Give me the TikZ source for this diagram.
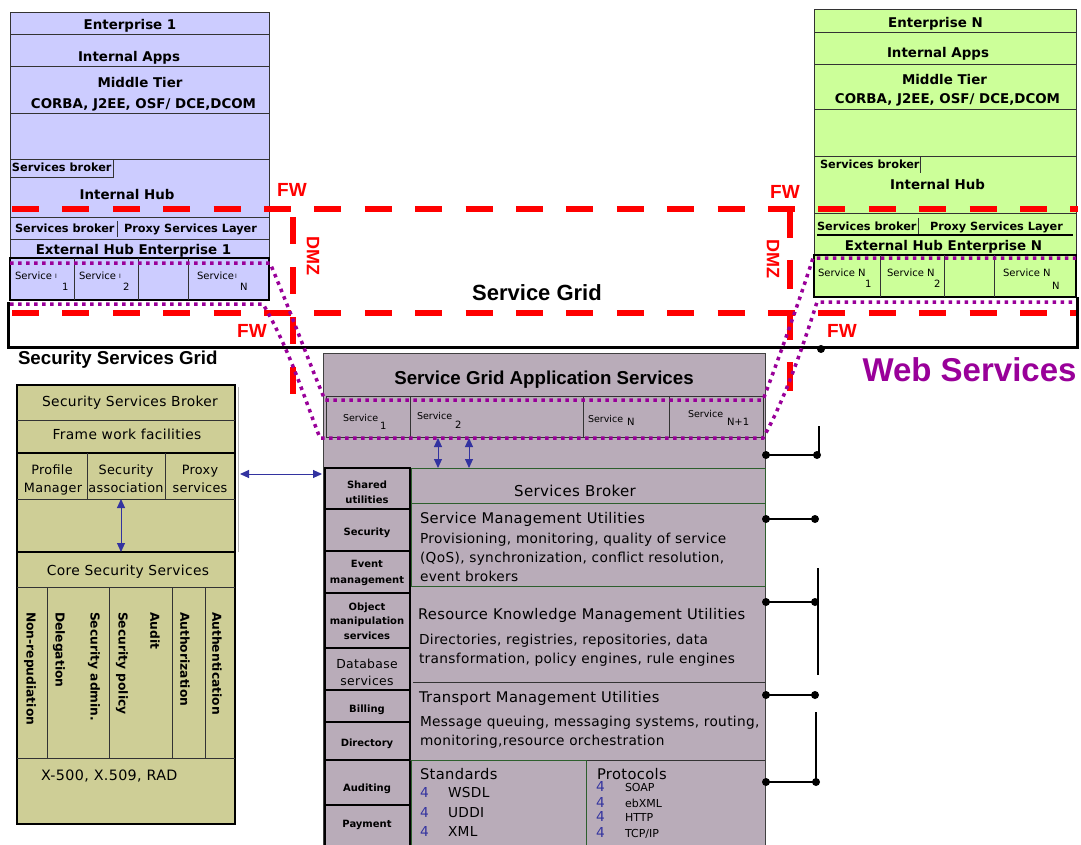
\documentclass[tikz,border=0pt]{standalone}
\usepackage{fontspec}
\setmainfont{DejaVu Sans}
\newfontfamily\hdfont{Liberation Sans}
\newfontfamily\spfont[LetterSpace=2.5]{DejaVu Sans}
\usetikzlibrary{arrows.meta}
\definecolor{entA}{RGB}{204,204,255}
\definecolor{entB}{RGB}{204,255,153}
\definecolor{secC}{RGB}{206,206,150}
\definecolor{gridC}{RGB}{185,172,185}
\definecolor{wsP}{RGB}{153,0,153}
\definecolor{fwR}{RGB}{255,0,0}
\definecolor{arB}{RGB}{51,51,160}
\definecolor{brG}{RGB}{45,95,45}
\tikzset{
  every node/.style={inner sep=0pt,outer sep=0pt},
  thin box/.style={draw=black!80,line width=0.8pt},
  thick box/.style={draw=black,line width=2pt},
  fwline/.style={draw=fwR,line width=6pt},
  hdash/.style={fwline,dash pattern=on 27pt off 23.4pt},
  purpdots/.style={draw=wsP,line width=3.5pt,dash pattern=on 3.5pt off 4.5pt},
  biarrow/.style={draw=arB,line width=1pt,{Triangle[length=9pt,width=8pt]}-{Triangle[length=9pt,width=8pt]}},
  tie/.style={draw=black,line width=1.2pt},
  tlab/.style={font=\fontsize{13.4}{16}\selectfont\bfseries,anchor=base},
  slab/.style={font=\fontsize{11.3}{13}\selectfont\bfseries,anchor=base west},
  svc/.style={font=\fontsize{9.5}{11}\selectfont,anchor=base west},
  subl/.style={font=\fontsize{10}{11}\selectfont,anchor=base west},
  tick/.style={font=\fontsize{6}{7}\selectfont,anchor=base west},
  body/.style={font=\spfont\fontsize{13.7}{16}\selectfont,anchor=base west},
  ttl/.style={font=\spfont\fontsize{14.7}{17}\selectfont,anchor=base west},
  sectxt/.style={font=\spfont\fontsize{13.8}{16}\selectfont,anchor=base},
  celltxt/.style={font=\spfont\fontsize{12.8}{15}\selectfont,anchor=base},
  cellb/.style={font=\fontsize{10}{12}\selectfont\bfseries,anchor=base},
  vlab/.style={font=\fontsize{12.3}{14}\selectfont\bfseries,rotate=-90,anchor=west},
  hd/.style={font=\hdfont\bfseries\fontsize{18.7}{22}\selectfont},
  fwlab/.style={font=\hdfont\bfseries\fontsize{19}{22}\selectfont,text=fwR},
  bullet/.style={font=\spfont\fontsize{13.7}{16}\selectfont,text=arB,anchor=base west},
  proto/.style={font=\fontsize{11}{12}\selectfont,anchor=base west},
}
\begin{document}
\begin{tikzpicture}[x=1pt,y=-1pt]
\useasboundingbox (0,0) rectangle (1081,845);
\fill[white] (0,0) rectangle (1081,845);

% ---------------- Enterprise 1 ----------------
\filldraw[fill=entA,thin box] (10,12) rectangle (269,300);
\foreach \yy in {34,66,113,159,217,239} \draw[thin box] (10,\yy) -- (269,\yy);
\draw[thin box] (10,159) rectangle (113,177);
\draw[thin box] (117,221) -- (117,237);
\draw[thick box] (10,258) rectangle (269,300);
\foreach \xx in {74,138,188} \draw[thin box] (\xx,258) -- (\xx,300);

\node[tlab] (e1t) at (130,29.8) {Enterprise 1};
\node[tlab] (e1a) at (129,61.8) {Internal Apps};
\node[tlab] (e1m) at (140,87.8) {Middle Tier};
\node[tlab] (e1c) at (143.5,108.8) {CORBA, J2EE, OSF/ DCE,DCOM};
\node[slab] (e1sb) at (12,172) {Services broker};
\node[tlab] (e1h) at (127,199.8) {Internal Hub};
\node[slab] (e1sb2) at (15,233) {Services broker};
\node[slab] (e1px) at (124,233) {Proxy Services Layer};
\node[tlab] (e1x) at (133.5,254.8) {External Hub Enterprise 1};
\node[subl] (e1s1) at (15,279.6) {Service};
\node[tick] (e1i1) at (55,278) {I};
\node[subl] (e1n1) at (62,290.5) {1};
\node[subl] (e1s2) at (79,279.6) {Service};
\node[tick] (e1i2) at (119,278) {I};
\node[subl] (e1n2) at (123,290.5) {2};
\node[subl] (e1s3) at (197,279.6) {Service};
\node[tick] (e1i3) at (235,278) {I};
\node[subl] (e1n3) at (240,290.5) {N};

% ---------------- Enterprise N ----------------
\filldraw[fill=entB,thin box] (814,9) rectangle (1076,297);
\foreach \yy in {32,64,109,156,213} \draw[thin box] (814,\yy) -- (1076,\yy);
\draw[draw=black,line width=1.5pt] (817,235) -- (1073,235);
\draw[thin box] (920,157) -- (920,173);
\draw[thin box] (918,218) -- (918,234);
\draw[thick box] (814,255) rectangle (1076,297);
\foreach \xx in {880,944,994} \draw[thin box] (\xx,255) -- (\xx,297);

\node[tlab] (ent) at (935.5,27.5) {Enterprise N};
\node[tlab] (ena) at (938,57.5) {Internal Apps};
\node[tlab] (enm) at (944.5,84.5) {Middle Tier};
\node[tlab] (enc) at (947.5,103.5) {CORBA, J2EE, OSF/ DCE,DCOM};
\node[slab] (ensb) at (820,169) {Services broker};
\node[tlab] (enh) at (937.5,189.5) {Internal Hub};
\node[slab] (ensb2) at (817,230) {Services broker};
\node[slab] (enpx) at (930,230) {Proxy Services Layer};
\node[tlab] (enx) at (943.5,250.5) {External Hub Enterprise N};
\node[subl] (ens1) at (818,276.5) {Service N};
\node[subl] (enn1) at (865,287.5) {1};
\node[subl] (ens2) at (887,276.5) {Service N};
\node[subl] (enn2) at (934,287.5) {2};
\node[subl] (ens3) at (1003,276.5) {Service N};
\node[subl] (enn3) at (1052,289) {N};

% ---------------- firewalls and DMZ ----------------
\draw[hdash] (12,209) -- (1078,209);
\draw[hdash] (12,313) -- (1078,313);
\draw[fwline,dash pattern=on 27pt off 23pt] (293,217) -- (293,395);
\draw[fwline,dash pattern=on 29pt off 22pt] (790,209) -- (790,391);
\node[fwlab] (fw1) at (292,190) {FW};
\node[fwlab] (fw2) at (785,192) {FW};
\node[fwlab] (fw3) at (252,331) {FW};
\node[fwlab] (fw4) at (842,331) {FW};
\node[fwlab,rotate=-90,font=\hdfont\bfseries\fontsize{18}{20}\selectfont] (dmz1) at (313,256) {DMZ};
\node[fwlab,rotate=-90,font=\hdfont\bfseries\fontsize{18}{20}\selectfont] (dmz2) at (773,259) {DMZ};
\node[hd,font=\hdfont\bfseries\fontsize{22}{24}\selectfont] (sgrid) at (537,293) {Service Grid};

% service grid frame
\draw[draw=black,line width=3pt] (8,302) -- (8,347) -- (1077,347) -- (1077,297);
\fill (821,349) circle (4pt);

% ---------------- Service Grid Application Services ----------------
\filldraw[fill=gridC,draw=black!75,line width=1pt] (323,353) rectangle (765,850);
\node[hd] (sgas) at (544,380) {Service Grid Application Services};
\draw[draw=black!80,line width=1pt] (326,396) rectangle (763,437);
\foreach \xx in {410,583,669} \draw[draw=black!80,line width=1pt] (\xx,396) -- (\xx,437);
\node[svc] (c1) at (343,421.4) {Service};
\node[subl] (c1n) at (380,429.6) {1};
\node[svc] (c2) at (417,419.4) {Service};
\node[subl] (c2n) at (455,428.6) {2};
\node[svc] (c3) at (588,422.4) {Service};
\node[subl] (c3n) at (627,425.6) {N};
\node[svc] (c4) at (688,417.4) {Service};
\node[subl] (c4n) at (727,425.6) {N+1};

% left column of shared utilities
\foreach \ya/\yb in {468/509,509/551,551/593,593/648,648/690,690/722,722/760,760/805,805/850}
  \draw[draw=black,line width=1.2pt] (325,\ya) rectangle (410,\yb);
\node[cellb] (u1) at (367,488.6) {Shared};
\node[cellb] (u1b) at (367,503.6) {utilities};
\node[cellb] (u2) at (367,535.6) {Security};
\node[cellb] (u3) at (367,567.6) {Event};
\node[cellb] (u3b) at (367,583.6) {management};
\node[cellb] (u4) at (367,610.6) {Object};
\node[cellb] (u4b) at (367,624.6) {manipulation};
\node[cellb] (u4c) at (367,639.6) {services};
\node[celltxt,font=\spfont\fontsize{12.4}{14}\selectfont] (u5) at (367,668.5) {Database};
\node[celltxt,font=\spfont\fontsize{12.4}{14}\selectfont] (u5b) at (367,685.5) {services};
\node[cellb] (u6) at (367,712.6) {Billing};
\node[cellb] (u7) at (367,746.6) {Directory};
\node[cellb] (u8) at (367,791.6) {Auditing};
\node[cellb] (u9) at (367,827.6) {Payment};

% broker and utility layers
\draw[draw=brG,line width=1pt] (411,468) rectangle (765,503);
\draw[draw=brG,line width=1pt] (411,503) rectangle (765,586);
\draw[draw=black!80,line width=1pt] (413,682) -- (765,682);
\draw[draw=black!80,line width=1pt] (410,760) -- (765,760);
\draw[draw=brG,line width=1pt] (411,760) rectangle (586,850);
\node[body,anchor=base,font=\spfont\fontsize{15}{17}\selectfont] (brk) at (575,496.4) {Services Broker};
\node[ttl] (sm1) at (420,523.3) {Service Management Utilities};
\node[body] (sm2) at (420,543.9) {Provisioning, monitoring, quality of service};
\node[body] (sm3) at (420,562.9) {(QoS), synchronization, conflict resolution,};
\node[body] (sm4) at (420,581.9) {event brokers};
\node[ttl] (rk1) at (418,619.3) {Resource Knowledge Management Utilities};
\node[body] (rk2) at (419,644.9) {Directories, registries, repositories, data};
\node[body] (rk3) at (419,663.9) {transformation, policy engines, rule engines};
\node[ttl] (tm1) at (419,702.3) {Transport Management Utilities};
\node[body] (tm2) at (420,726.9) {Message queuing, messaging systems, routing,};
\node[body] (tm3) at (420,745.9) {monitoring,resource orchestration};
\node[ttl] (st) at (420,779.3) {Standards};
\node[bullet] (sb1) at (420,797.9) {4};
\node[body] (st1) at (448,797.9) {WSDL};
\node[bullet] (sb2) at (420,817.9) {4};
\node[body] (st2) at (448,817.9) {UDDI};
\node[bullet] (sb3) at (420,836.9) {4};
\node[body] (st3) at (448,836.9) {XML};
\node[ttl] (pr) at (597,779.3) {Protocols};
\node[bullet] (pb1) at (596,791.9) {4};
\node[proto] (pr1) at (625,791) {SOAP};
\node[bullet] (pb2) at (596,807.9) {4};
\node[proto] (pr2) at (625,807) {ebXML};
\node[bullet] (pb3) at (596,821.9) {4};
\node[proto] (pr3) at (625,821) {HTTP};
\node[bullet] (pb4) at (596,837.9) {4};
\node[proto] (pr4) at (625,837) {TCP/IP};

% service row to broker
\coordinate (sa1) at (438,438);
\coordinate (sb1e) at (438,468);
\coordinate (sa2) at (469,438);
\coordinate (sb2e) at (469,468);
\draw[biarrow] (sa1) -- (sb1e);
\draw[biarrow] (sa2) -- (sb2e);

% ---------------- Security Services Grid ----------------
\node[hd,anchor=west] (ssg) at (18,360) {Security Services Grid};
\filldraw[fill=secC,draw=black,line width=2pt] (17,385) rectangle (235,824);
\draw[draw=black!30,line width=0.8pt] (238,387) -- (238,552);
\foreach \yy in {420,453,499,552,587,758} \draw[thin box] (17,\yy) -- (235,\yy);
\draw[draw=black,line width=1.6pt] (17,453) -- (235,453);
\draw[draw=black,line width=1.6pt] (17,552) -- (235,552);
\foreach \xx in {87,165} \draw[thin box] (\xx,453) -- (\xx,499);
\foreach \xx in {47,109,172,205} \draw[thin box] (\xx,587) -- (\xx,758);
\node[sectxt] (ss1) at (130,406.8) {Security Services Broker};
\node[sectxt] (ss2) at (127,439.8) {Frame work facilities};
\node[celltxt] (pm1) at (52,474.8) {Profile};
\node[celltxt] (pm2) at (53,492.8) {Manager};
\node[celltxt] (sa) at (126,474.8) {Security};
\node[celltxt] (sab) at (126,492.8) {association};
\node[celltxt] (ps) at (200,474.8) {Proxy};
\node[celltxt] (psb) at (200,492.8) {services};
\node[sectxt] (css) at (128,575.8) {Core Security Services};
\node[vlab] (v1) at (30,612) {Non-repudiation};
\node[vlab] (v2) at (59,612) {Delegation};
\node[vlab] (v3) at (94,612) {Security admin.};
\node[vlab] (v4) at (122,612) {Security policy};
\node[vlab] (v5) at (155,612) {Audit};
\node[vlab] (v6) at (185,612) {Authorization};
\node[vlab] (v7) at (217,612) {Authentication};
\node[sectxt,anchor=base west,font=\spfont\fontsize{14.3}{16}\selectfont] (xr) at (41,780) {X-500, X.509, RAD};

\coordinate (va1) at (121,499);
\coordinate (va2) at (121,552);
\draw[biarrow] (va1) -- (va2);
\coordinate (ha1) at (240,474);
\coordinate (ha2) at (322,474);
\draw[biarrow] (ha1) -- (ha2);

% ---------------- service pipes (dotted) ----------------
\draw[purpdots] (10,263) -- (270,263) .. controls (292,315) and (308,360) .. (325,400) -- (763,400) .. controls (778,360) and (798,305) .. (813,258) -- (1076,258);
\draw[purpdots] (10,304) -- (263,304) .. controls (290,350) and (305,400) .. (320,438) -- (763,438) .. controls (785,400) and (805,340) .. (817,302) -- (1076,302);

% ---------------- web service ties ----------------
\node[hd,font=\hdfont\bfseries\fontsize{33}{36}\selectfont,text=wsP] (ws) at (969.5,370) {Web Services};
\coordinate (t1a) at (766,455); \coordinate (t1b) at (817,455); \coordinate (t1c) at (819,426);
\coordinate (t2a) at (766,519); \coordinate (t2b) at (815,519);
\coordinate (t3a) at (766,602); \coordinate (t3b) at (815,602);
\coordinate (t3c) at (818,568); \coordinate (t3d) at (818,675);
\coordinate (t4a) at (766,695); \coordinate (t4b) at (815,695);
\coordinate (t5a) at (766,782); \coordinate (t5b) at (816,782); \coordinate (t5c) at (816,712);
\draw[tie] (t1c) -- (t1c |- t1b);
\draw[tie] (t3c) -- (t3d);
\draw[tie] (t5c) -- (t5b);
\foreach \a/\b in {t1a/t1b,t2a/t2b,t3a/t3b,t4a/t4b,t5a/t5b} {
  \draw[tie] (\a) -- (\b);
  \fill (\a) circle (4pt);
  \fill (\b) circle (4pt);
}
\end{tikzpicture}
\end{document}
